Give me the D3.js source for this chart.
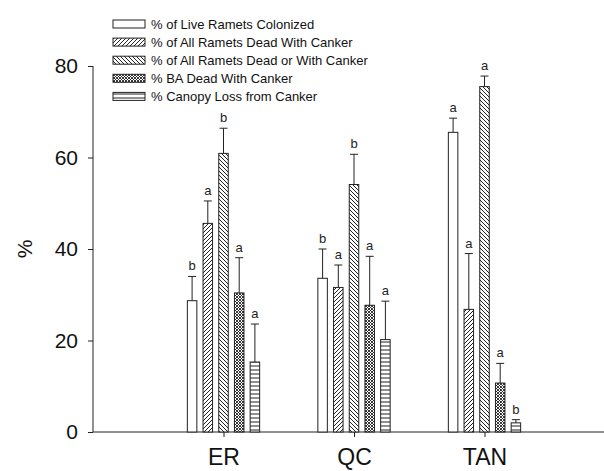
<!DOCTYPE html>
<html><head><meta charset="utf-8">
<script src="https://cdn.jsdelivr.net/npm/d3@7"></script>
<style>body{margin:0;background:#fff}svg{display:block;font-family:Arial,"Liberation Sans",sans-serif}</style>
</head><body>
<script>
const categories = ["ER","QC","TAN"];
const seriesNames = ["% of Live Ramets Colonized","% of All Ramets Dead With Canker","% of All Ramets Dead or With Canker","% BA Dead With Canker","% Canopy Loss from Canker"];
const colonized   = [28.7, 33.6, 65.5];
const deadCanker  = [45.6, 31.6, 26.8];
const deadOrCanker= [60.9, 54.1, 75.5];
const baDead      = [30.4, 27.7, 10.7];
const canopyLoss  = [15.3, 20.2, 2.0];
const errColonized   = [34.0, 40.0, 68.6];
const errDeadCanker  = [50.5, 36.5, 39.0];
const errDeadOrCanker= [66.4, 60.7, 77.8];
const errBaDead      = [38.1, 38.4, 15.0];
const errCanopyLoss  = [23.6, 28.6, 2.7];
const lettersColonized   = ["b","b","a"];
const lettersDeadCanker  = ["a","a","a"];
const lettersDeadOrCanker= ["b","b","a"];
const lettersBaDead      = ["a","a","a"];
const lettersCanopyLoss  = ["a","a","b"];
const yTicks = [0,20,40,60,80];

const values = [colonized, deadCanker, deadOrCanker, baDead, canopyLoss];
const errs = [errColonized, errDeadCanker, errDeadOrCanker, errBaDead, errCanopyLoss];
const letters = [lettersColonized, lettersDeadCanker, lettersDeadOrCanker, lettersBaDead, lettersCanopyLoss];

const W = 604, H = 471;
const svg = d3.select("body").append("svg").attr("width", W).attr("height", H);
const defs = svg.append("defs");
const ink = "#222";

function pat(id, size, draw) {
  const p = defs.append("pattern").attr("id", id).attr("patternUnits", "userSpaceOnUse")
    .attr("width", size).attr("height", size);
  p.append("rect").attr("width", size).attr("height", size).attr("fill", "#fff");
  draw(p);
}
pat("p1", 4, p => {});
pat("p2", 4, p => {
  p.append("path").attr("d", "M-1,1 L1,-1 M0,4 L4,0 M3,5 L5,3").attr("stroke", ink).attr("stroke-width", 1);
});
pat("p3", 4, p => {
  p.append("path").attr("d", "M-1,3 L1,5 M0,0 L4,4 M3,-1 L5,1").attr("stroke", ink).attr("stroke-width", 1);
});
pat("p4", 3, p => {
  p.append("path").attr("d", "M0,0 L3,3 M3,0 L0,3").attr("stroke", ink).attr("stroke-width", 0.9);
});
pat("p5", 4, p => {
  p.append("path").attr("d", "M0,2 L4,2").attr("stroke", ink).attr("stroke-width", 1);
});
const fills = ["url(#p1)","url(#p2)","url(#p3)","url(#p4)","url(#p5)"];

const x0 = 93, y0 = 432;
const x = d3.scaleLinear().domain([0, 4]).range([x0, 615]);
const y = d3.scaleLinear().domain([0, 80]).range([y0, 66]);
const pitch = 15.7, bw = 9.5;

const yAxis = svg.append("g").attr("transform", `translate(${x0},0)`)
  .call(d3.axisLeft(y).tickValues(yTicks).tickSize(5).tickPadding(10));
yAxis.select(".domain").attr("stroke", ink).attr("d", `M0,${y(80)}V${y0}`);
yAxis.selectAll(".tick line").attr("stroke", ink);
yAxis.selectAll(".tick text").attr("font-size", 21).attr("fill", "#111").attr("font-family", "Arial, Liberation Sans, sans-serif");

const xAxis = svg.append("g").attr("transform", `translate(0,${y0})`)
  .call(d3.axisBottom(x).tickValues([1,2,3]).tickFormat(d => categories[d-1]).tickSize(5).tickPadding(12));
xAxis.select(".domain").attr("stroke", ink).attr("d", `M${x0},0H604`);
xAxis.selectAll(".tick line").attr("stroke", ink);
xAxis.selectAll(".tick text").attr("font-size", 23).attr("fill", "#111").attr("font-family", "Arial, Liberation Sans, sans-serif");

svg.append("text").attr("transform", `translate(32,${y(40)}) rotate(-90)`)
  .attr("text-anchor", "middle").attr("font-size", 21).attr("fill", "#111").text("%");

values.forEach((vals, s) => {
  const g = svg.append("g");
  vals.forEach((v, i) => {
    const cx = x(i + 1) + (s - 2) * pitch;
    g.append("rect").attr("x", cx - bw / 2).attr("y", y(v)).attr("width", bw).attr("height", y0 - y(v))
      .attr("fill", fills[s]).attr("stroke", ink).attr("stroke-width", 1);
    const e = errs[s][i];
    g.append("line").attr("x1", cx).attr("x2", cx).attr("y1", y(v)).attr("y2", y(e)).attr("stroke", ink);
    g.append("line").attr("x1", cx - 4).attr("x2", cx + 4).attr("y1", y(e)).attr("y2", y(e)).attr("stroke", ink);
    g.append("text").attr("x", cx).attr("y", y(e) - 6).attr("text-anchor", "middle")
      .attr("font-size", 13).attr("fill", "#222").text(letters[s][i]);
  });
});

const leg = svg.append("g");
seriesNames.forEach((n, s) => {
  const yy = 24 + s * 18.1;
  leg.append("rect").attr("x", 113).attr("y", yy - 4).attr("width", 32).attr("height", 8)
    .attr("fill", fills[s]).attr("stroke", ink).attr("stroke-width", 1);
  leg.append("text").attr("x", 151).attr("y", yy + 4.5).attr("font-size", 13).attr("fill", "#111").text(n);
});
</script>
</body></html>
